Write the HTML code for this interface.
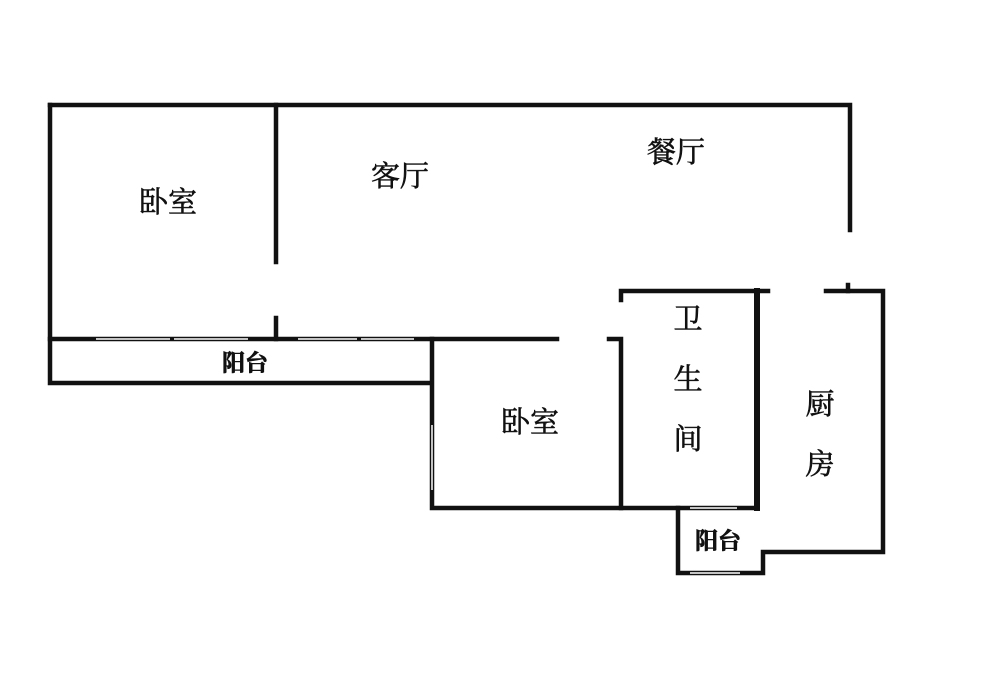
<!DOCTYPE html>
<html><head><meta charset="utf-8"><style>
body{margin:0;background:#fff;}
svg{display:block}
text{font-family:"Liberation Serif","Noto Serif CJK SC","Noto Sans CJK SC",serif;fill:#111;text-anchor:middle;dominant-baseline:central;stroke:#111;stroke-width:0.6}
</style></head><body>
<svg width="1000" height="677" viewBox="0 0 1000 677">
<g stroke="#111" stroke-width="4.5" fill="none" stroke-linecap="square">
<path d="M50 105 H850 V230"/>
<path d="M50 105 V383 H431"/>
<path d="M276 105 V262 M276 318 V339"/>
<path d="M50 339 H557"/>
<path d="M432 339 V508 H757"/>
<path d="M609 339 H621 V508"/>
<path d="M621 300 V291 H768"/>
<path d="M757 291 V508" stroke-width="6"/>
<path d="M826 291 H883 V552 H763 V573 H678 V508"/>
<path d="M848 285 V291"/>
</g>
<g stroke="#fff" stroke-width="1.5">
<path d="M96 339 H170 M174 339 H248 M298 339 H357 M361 339 H414"/>
<path d="M690 508 H737 M690 573 H740"/>
<path d="M432 425 V490"/>
</g>
<text x="168" y="203" font-size="29">卧室</text>
<text x="400" y="177" font-size="29">客厅</text>
<text x="676" y="153" font-size="29">餐厅</text>
<text x="245" y="363" font-size="23" font-weight="bold">阳台</text>
<text x="530" y="423" font-size="29">卧室</text>
<text x="688" y="320" font-size="29">卫</text>
<text x="688" y="380" font-size="29">生</text>
<text x="688" y="440" font-size="29">间</text>
<text x="820" y="405" font-size="29">厨</text>
<text x="820" y="465" font-size="29">房</text>
<text x="718" y="541" font-size="23" font-weight="bold">阳台</text>
</svg>
</body></html>
